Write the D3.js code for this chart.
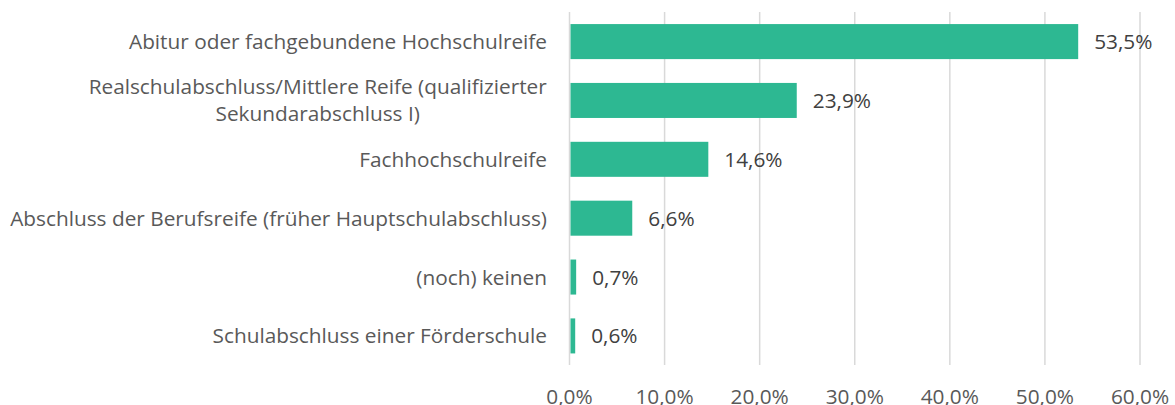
<!DOCTYPE html>
<html><head><meta charset="utf-8">
<script src="https://cdn.jsdelivr.net/npm/d3@7"></script>
<style>body{margin:0;background:#fff}svg{display:block}</style>
</head><body><svg id="c" width="1175" height="405"></svg>
<script>
const categories = [
  ["Abitur oder fachgebundene Hochschulreife"],
  ["Realschulabschluss/Mittlere Reife (qualifizierter", "Sekundarabschluss I)"],
  ["Fachhochschulreife"],
  ["Abschluss der Berufsreife (früher Hauptschulabschluss)"],
  ["(noch) keinen"],
  ["Schulabschluss einer Förderschule"]
];
const values = [53.5, 23.9, 14.6, 6.6, 0.7, 0.6];
const valueLabels = ["53,5%", "23,9%", "14,6%", "6,6%", "0,7%", "0,6%"];
const ticks = [0, 10, 20, 30, 40, 50, 60];
const tickLabels = ["0,0%", "10,0%", "20,0%", "30,0%", "40,0%", "50,0%", "60,0%"];

const font = "'Open Sans', sans-serif";
const fs = 20.8;
const svg = d3.select("#c");
const x = d3.scaleLinear().domain([0, 60]).range([569.5, 1140]);
const y = d3.scaleBand().domain(d3.range(categories.length)).range([12.3, 365.2]).paddingInner(0.405).paddingOuter(0.2);

svg.append("g").selectAll("line").data(ticks).join("line")
  .attr("x1", d => x(d)).attr("x2", d => x(d))
  .attr("y1", 12).attr("y2", 365)
  .attr("stroke", "#d9d9d9").attr("stroke-width", 1.5);

svg.append("g").selectAll("rect").data(values).join("rect")
  .attr("x", x(0) + 1).attr("y", (d, i) => y(i))
  .attr("width", d => x(d) - x(0) - 1).attr("height", y.bandwidth())
  .attr("fill", "#2db892");

svg.append("g").selectAll("text").data(values).join("text")
  .attr("x", d => x(d) + 16).attr("y", (d, i) => y(i) + y.bandwidth() / 2)
  .attr("dy", "0.36em")
  .attr("font-family", font).attr("font-size", fs).attr("fill", "#404040")
  .text((d, i) => valueLabels[i]);

const cg = svg.append("g");
categories.forEach((lines, i) => {
  const cy = y(i) + y.bandwidth() / 2;
  const lh = 27;
  const t = cg.append("text").attr("text-anchor", "middle")
    .attr("font-family", font).attr("font-size", fs).attr("fill", "#595959");
  lines.forEach((ln, j) => {
    t.append("tspan").attr("x", 0).attr("y", cy + (j - (lines.length - 1) / 2) * lh).attr("dy", "0.36em").text(ln);
  });
  const bb = t.node().getBBox();
  t.selectAll("tspan").attr("x", 547 - bb.width / 2);
});

svg.append("g").selectAll("text").data(ticks).join("text")
  .attr("x", d => x(d)).attr("y", 404)
  .attr("text-anchor", "middle")
  .attr("font-family", font).attr("font-size", fs).attr("fill", "#595959")
  .text((d, i) => tickLabels[i]);
</script></body></html>
